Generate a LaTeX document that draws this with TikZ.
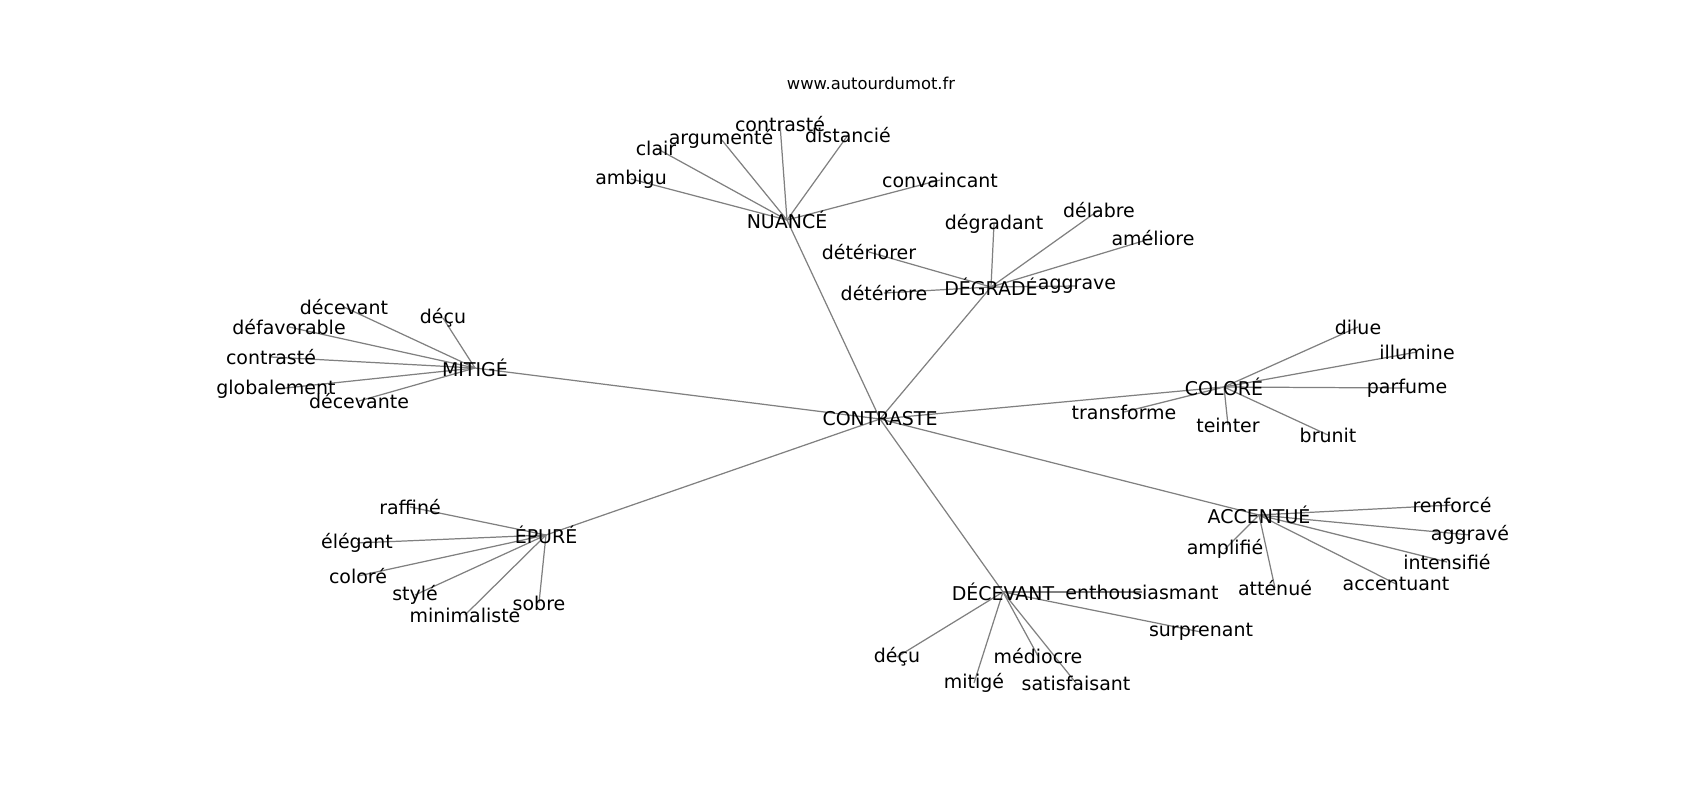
\documentclass[tikz,border=0pt]{standalone}
\usepackage{fontspec}
\setmainfont{DejaVu Sans}
\usetikzlibrary{backgrounds}
\begin{document}
\begin{tikzpicture}[scale=0.2]
\tikzstyle{every node}+=[inner sep=0pt,font=\fontsize{10.8}{13}\selectfont]
\tikzstyle{edge}=[black!50,line width=0.7pt]
\useasboundingbox (0,0) rectangle (170,-80);
\node (title) at (87.1,-8.3) {\fontsize{9.3}{11}\selectfont www.autourdumot.fr};
\node (c) at (88.0,-41.9) {CONTRASTE};
\node (nu) at (78.7,-22.0) {NUANCÉ};
\node (nu1) at (63.1,-17.9) {ambigu};
\node (nu2) at (65.6,-14.8) {clair};
\node (nu3) at (72.1,-13.9) {argumenté};
\node (nu4) at (78.0,-12.4) {contrasté};
\node (nu5) at (84.8,-13.5) {distancié};
\node (nu6) at (94.0,-18.0) {convaincant};
\node (dg) at (99.1,-28.7) {DÉGRADÉ};
\node (dg1) at (99.4,-22.4) {dégradant};
\node (dg2) at (109.9,-21.0) {délabre};
\node (dg3) at (115.3,-23.8) {améliore};
\node (dg4) at (86.9,-25.2) {détériorer};
\node (dg5) at (88.4,-29.3) {détériore};
\node (dg6) at (107.7,-28.6) {aggrave};
\node (mi) at (47.5,-36.8) {MITIGÉ};
\node (mi1) at (34.4,-30.7) {décevant};
\node (mi2) at (44.3,-31.8) {déçu};
\node (mi3) at (28.9,-32.7) {défavorable};
\node (mi4) at (27.1,-35.7) {contrasté};
\node (mi5) at (27.6,-38.9) {globalement};
\node (mi6) at (35.9,-40.1) {décevante};
\node (co) at (122.4,-38.7) {COLORÉ};
\node (co1) at (135.8,-32.7) {dilue};
\node (co2) at (141.7,-35.2) {illumine};
\node (co3) at (140.7,-38.8) {parfume};
\node (co4) at (132.8,-43.5) {brunit};
\node (co5) at (122.8,-42.5) {teinter};
\node (co6) at (112.4,-41.2) {transforme};
\node (ac) at (125.9,-51.5) {ACCENTUÉ};
\node (ac1) at (145.2,-50.5) {renforcé};
\node (ac2) at (147.0,-53.5) {aggravé};
\node (ac3) at (144.7,-56.2) {intensifié};
\node (ac4) at (139.6,-58.4) {accentuant};
\node (ac5) at (127.5,-58.8) {atténué};
\node (ac6) at (122.5,-54.9) {amplifié};
\node (dc) at (100.3,-59.2) {DÉCEVANT};
\node (dc1) at (114.2,-59.2) {enthousiasmant};
\node (dc2) at (120.1,-63.2) {surprenant};
\node (dc3) at (103.8,-65.6) {médiocre};
\node (dc4) at (107.6,-68.3) {satisfaisant};
\node (dc5) at (97.4,-68.3) {mitigé};
\node (dc6) at (89.7,-65.7) {déçu};
\node (ep) at (54.6,-53.5) {ÉPURÉ};
\node (ep1) at (41.0,-50.7) {raffiné};
\node (ep2) at (35.7,-54.3) {élégant};
\node (ep3) at (35.8,-57.6) {coloré};
\node (ep4) at (41.5,-59.5) {stylé};
\node (ep5) at (46.5,-61.5) {minimaliste};
\node (ep6) at (53.9,-60.3) {sobre};
\begin{pgfonlayer}{background}
\draw [edge] (c.center) -- (nu.center);
\draw [edge] (c.center) -- (dg.center);
\draw [edge] (c.center) -- (mi.center);
\draw [edge] (c.center) -- (co.center);
\draw [edge] (c.center) -- (ac.center);
\draw [edge] (c.center) -- (dc.center);
\draw [edge] (c.center) -- (ep.center);
\draw [edge] (nu.center) -- (nu1.center);
\draw [edge] (nu.center) -- (nu2.center);
\draw [edge] (nu.center) -- (nu3.center);
\draw [edge] (nu.center) -- (nu4.center);
\draw [edge] (nu.center) -- (nu5.center);
\draw [edge] (nu.center) -- (nu6.center);
\draw [edge] (dg.center) -- (dg1.center);
\draw [edge] (dg.center) -- (dg2.center);
\draw [edge] (dg.center) -- (dg3.center);
\draw [edge] (dg.center) -- (dg4.center);
\draw [edge] (dg.center) -- (dg5.center);
\draw [edge] (dg.center) -- (dg6.center);
\draw [edge] (mi.center) -- (mi1.center);
\draw [edge] (mi.center) -- (mi2.center);
\draw [edge] (mi.center) -- (mi3.center);
\draw [edge] (mi.center) -- (mi4.center);
\draw [edge] (mi.center) -- (mi5.center);
\draw [edge] (mi.center) -- (mi6.center);
\draw [edge] (co.center) -- (co1.center);
\draw [edge] (co.center) -- (co2.center);
\draw [edge] (co.center) -- (co3.center);
\draw [edge] (co.center) -- (co4.center);
\draw [edge] (co.center) -- (co5.center);
\draw [edge] (co.center) -- (co6.center);
\draw [edge] (ac.center) -- (ac1.center);
\draw [edge] (ac.center) -- (ac2.center);
\draw [edge] (ac.center) -- (ac3.center);
\draw [edge] (ac.center) -- (ac4.center);
\draw [edge] (ac.center) -- (ac5.center);
\draw [edge] (ac.center) -- (ac6.center);
\draw [edge] (dc.center) -- (dc1.center);
\draw [edge] (dc.center) -- (dc2.center);
\draw [edge] (dc.center) -- (dc3.center);
\draw [edge] (dc.center) -- (dc4.center);
\draw [edge] (dc.center) -- (dc5.center);
\draw [edge] (dc.center) -- (dc6.center);
\draw [edge] (ep.center) -- (ep1.center);
\draw [edge] (ep.center) -- (ep2.center);
\draw [edge] (ep.center) -- (ep3.center);
\draw [edge] (ep.center) -- (ep4.center);
\draw [edge] (ep.center) -- (ep5.center);
\draw [edge] (ep.center) -- (ep6.center);
\end{pgfonlayer}
\end{tikzpicture}
\end{document}
